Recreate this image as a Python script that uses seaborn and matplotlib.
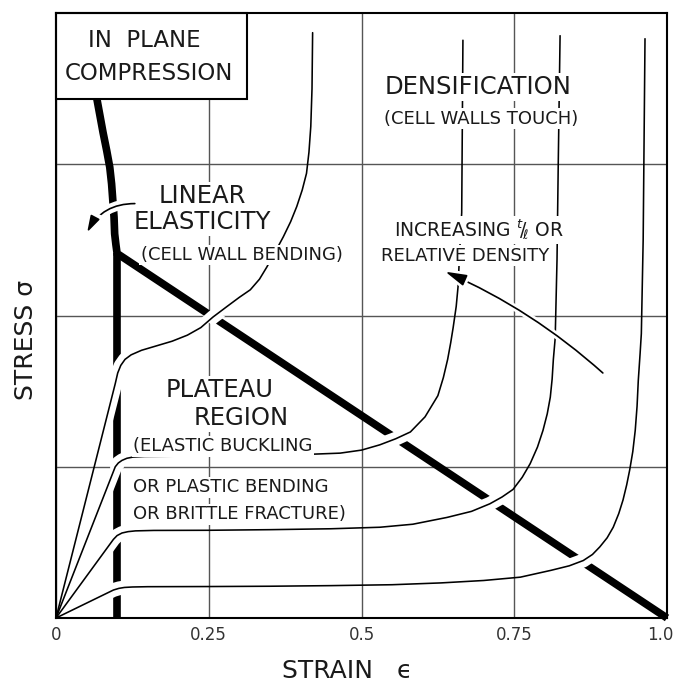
import numpy as np
import matplotlib
matplotlib.use("Agg")
import matplotlib.pyplot as plt
import seaborn as sns
from matplotlib.path import Path
from matplotlib.transforms import IdentityTransform, ScaledTranslation
from matplotlib.patches import Rectangle
import matplotlib.patheffects as pe

# ---------------- data ----------------
xticks = [0, 0.25, 0.5, 0.75, 1.0]
xtick_labels = ["0", "0.25", "0.5", "0.75", "1.0"]
ygrid = [1, 2, 3]

# stress-strain curves, lowest relative density first
c1_x = [0, 0.094, 0.103, 0.112, 0.125, 0.15, 0.25, 0.35, 0.45, 0.55, 0.63, 0.70, 0.76, 0.81, 0.84,
        0.863, 0.878, 0.89, 0.902, 0.912, 0.921, 0.928, 0.934, 0.939, 0.944, 0.948, 0.951, 0.953,
        0.956, 0.958, 0.961, 0.964]
c1_y = [0, 0.185, 0.196, 0.202, 0.205, 0.207, 0.208, 0.21, 0.214, 0.22, 0.232, 0.248, 0.27, 0.315, 0.345,
        0.38, 0.42, 0.47, 0.53, 0.60, 0.69, 0.78, 0.88, 0.98, 1.10, 1.24, 1.40, 1.57,
        1.75, 1.88, 2.50, 3.83]

c2_x = [0, 0.094, 0.10, 0.108, 0.118, 0.13, 0.16, 0.25, 0.35, 0.45, 0.53, 0.584, 0.64, 0.68, 0.71,
        0.73, 0.748, 0.763, 0.776, 0.788, 0.797, 0.804, 0.809, 0.812, 0.814, 0.817, 0.82, 0.822, 0.825]
c2_y = [0, 0.52, 0.545, 0.562, 0.571, 0.576, 0.579, 0.58, 0.584, 0.59, 0.60, 0.62, 0.665, 0.705, 0.755,
        0.80, 0.85, 0.93, 1.02, 1.13, 1.24, 1.35, 1.46, 1.58, 1.71, 1.85, 2.37, 3.00, 3.85]

c3_x = [0, 0.097, 0.102, 0.108, 0.116, 0.126, 0.145, 0.2, 0.3, 0.4, 0.465, 0.50, 0.53, 0.556, 0.58,
        0.604, 0.625, 0.634, 0.641, 0.646, 0.65, 0.655, 0.658, 0.661, 0.664, 0.666]
c3_y = [0, 1.0, 1.025, 1.042, 1.056, 1.064, 1.068, 1.07, 1.072, 1.08, 1.09, 1.11, 1.145, 1.185, 1.23,
        1.33, 1.47, 1.59, 1.71, 1.82, 1.92, 2.06, 2.19, 2.45, 2.68, 3.82]

c4_x = [0, 0.097, 0.101, 0.106, 0.113, 0.123, 0.14, 0.165, 0.19, 0.215, 0.237, 0.257, 0.28, 0.30,
        0.318, 0.333, 0.345, 0.36, 0.372, 0.384, 0.394, 0.403, 0.41, 0.414, 0.417, 0.419, 0.42]
c4_y = [0, 1.55, 1.62, 1.67, 1.71, 1.74, 1.77, 1.80, 1.83, 1.87, 1.92, 1.99, 2.06, 2.12,
        2.17, 2.24, 2.32, 2.43, 2.52, 2.62, 2.72, 2.83, 2.94, 3.08, 3.25, 3.50, 3.87]

curves = [(c1_x, c1_y), (c2_x, c2_y), (c3_x, c3_y), (c4_x, c4_y)]

# in-plane compression (thick line): upper curve + diagonal, and vertical
thick_x = [0.067, 0.072, 0.077, 0.083, 0.088, 0.091, 0.093, 0.095, 0.096, 0.098, 0.1, 1.0]
thick_y = [3.43, 3.32, 3.21, 3.09, 2.98, 2.87, 2.76, 2.65, 2.54, 2.47, 2.41, 0.0]
vert_x = [0.1, 0.1]
vert_y = [2.41, 0.0]

# ---------------- figure ----------------
sns.set_theme(style="white")
plt.rcParams['font.family'] = ['DejaVu Sans']
plt.rcParams['mathtext.fontset'] = 'dejavusans'

fig = plt.figure(figsize=(6.78, 6.82), dpi=100)
ax = fig.add_axes([56 / 678, 64 / 682, 611 / 678, 605 / 682])
ax.set_xlim(0, 1)
ax.set_ylim(0, 4)

ax.set_xticks(xticks)
ax.set_xticklabels(xtick_labels)
ax.set_yticks(ygrid)
ax.set_yticklabels([])
ax.grid(True, color='#555555', lw=1.0)
ax.set_axisbelow(True)
ax.tick_params(length=0, pad=6, labelsize=12, labelcolor='#333333')
last = ax.get_xticklabels()[-1]
last.set_transform(last.get_transform() + ScaledTranslation(-5 / 72, 0, fig.dpi_scale_trans))
for s in ax.spines.values():
    s.set_color('black')
    s.set_linewidth(1.5)
    s.set_zorder(7)

# thick lines
THICK = 5.5
sns.lineplot(x=thick_x, y=thick_y, sort=False, estimator=None, color='black', lw=THICK, ax=ax)
ln = ax.lines[-1]
ln.set_solid_capstyle('butt'); ln.set_solid_joinstyle('miter'); ln.set_clip_on(False); ln.set_zorder(2)
sns.lineplot(x=vert_x, y=vert_y, sort=False, estimator=None, color='black', lw=THICK, ax=ax)
ln = ax.lines[-1]
ln.set_solid_capstyle('butt'); ln.set_zorder(2)

# clip region = band covering the thick lines (display coordinates)
def band(xs, ys, w):
    pts = ax.transData.transform(np.column_stack([xs, ys]))
    verts, codes = [], []
    for p0, p1 in zip(pts[:-1], pts[1:]):
        d = p1 - p0
        n = np.array([-d[1], d[0]]) / np.hypot(d[0], d[1]) * w / 2
        verts += [p0 + n, p1 + n, p1 - n, p0 - n, p0]
        codes += [Path.MOVETO, Path.LINETO, Path.LINETO, Path.LINETO, Path.CLOSEPOLY]
    return verts, codes

v1, k1 = band(thick_x, thick_y, 14)
v2, k2 = band(vert_x, vert_y, 14)
clip = Path(np.array(v1 + v2), k1 + k2)

for cx, cy in curves:
    sns.lineplot(x=cx, y=cy, sort=False, estimator=None, color='white', lw=10, ax=ax)
    w = ax.lines[-1]
    w.set_zorder(2.5)
    w.set_solid_capstyle('butt')
    w.set_clip_path(clip, IdentityTransform())
    sns.lineplot(x=cx, y=cy, sort=False, estimator=None, color='black', lw=1.15, ax=ax)
    ax.lines[-1].set_zorder(3)

# arrows
ax.annotate("", xy=(0.051, 2.55), xytext=(0.129, 2.74), zorder=4,
            arrowprops=dict(arrowstyle="-|>,head_length=1.0,head_width=0.3", mutation_scale=10,
                            color='black', lw=1.2, connectionstyle="arc3,rad=0.3",
                            shrinkA=0, shrinkB=0,
                            path_effects=[pe.Stroke(linewidth=7, foreground='white'), pe.Normal()]))
ax.annotate("", xy=(0.637, 2.29), xytext=(0.895, 1.62), zorder=4,
            arrowprops=dict(arrowstyle="-|>,head_length=1.3,head_width=0.35", mutation_scale=10,
                            color='black', lw=1.2, connectionstyle="arc3,rad=0.08",
                            shrinkA=0, shrinkB=0,
                            path_effects=[pe.Stroke(linewidth=5, foreground='white'), pe.Normal()]))

# box
ax.add_patch(Rectangle((0, 3.43), 0.3126, 0.57, facecolor='white', edgecolor='black',
                       lw=1.5, zorder=5, clip_on=False))

TXT = '#1a1a1a'
def label(x, y, s, size, ha='center', box=True):
    kw = dict(fontsize=size, ha=ha, va='center', color=TXT, zorder=6)
    if box:
        kw['bbox'] = dict(boxstyle='square,pad=0.08', facecolor='white', edgecolor='none')
    ax.text(x, y, s, **kw)

label(0.145, 3.82, "IN  PLANE", 16.5, box=False)
label(0.152, 3.60, "COMPRESSION", 16.5, box=False)
label(0.239, 2.79, "LINEAR", 17.5)
label(0.240, 2.62, "ELASTICITY", 17.5)
label(0.304, 2.40, "(CELL WALL BENDING)", 13)
label(0.268, 1.51, "PLATEAU", 17.5)
label(0.303, 1.32, "REGION", 17.5)
label(0.126, 1.135, "(ELASTIC BUCKLING", 13, ha='left')
label(0.126, 0.865, "OR PLASTIC BENDING", 13, ha='left')
label(0.126, 0.685, "OR BRITTLE FRACTURE)", 13, ha='left')
label(0.691, 3.51, "DENSIFICATION", 17.5)
label(0.695, 3.30, "(CELL WALLS TOUCH)", 13)
label(0.692, 2.565, r"INCREASING $^{t}\!/\!_{\ell}$ OR", 13.5)
label(0.669, 2.395, "RELATIVE DENSITY", 13)

ax.set_xlabel("STRAIN   \u03f5", fontsize=18, color=TXT, va='center')
ax.xaxis.set_label_coords(0.476, -0.0876)
ax.set_ylabel("STRESS \u03c3", fontsize=18, color=TXT, va='center')
ax.yaxis.set_label_coords(-0.049, 0.46)

fig.savefig("out.png", dpi=100, facecolor='white')
